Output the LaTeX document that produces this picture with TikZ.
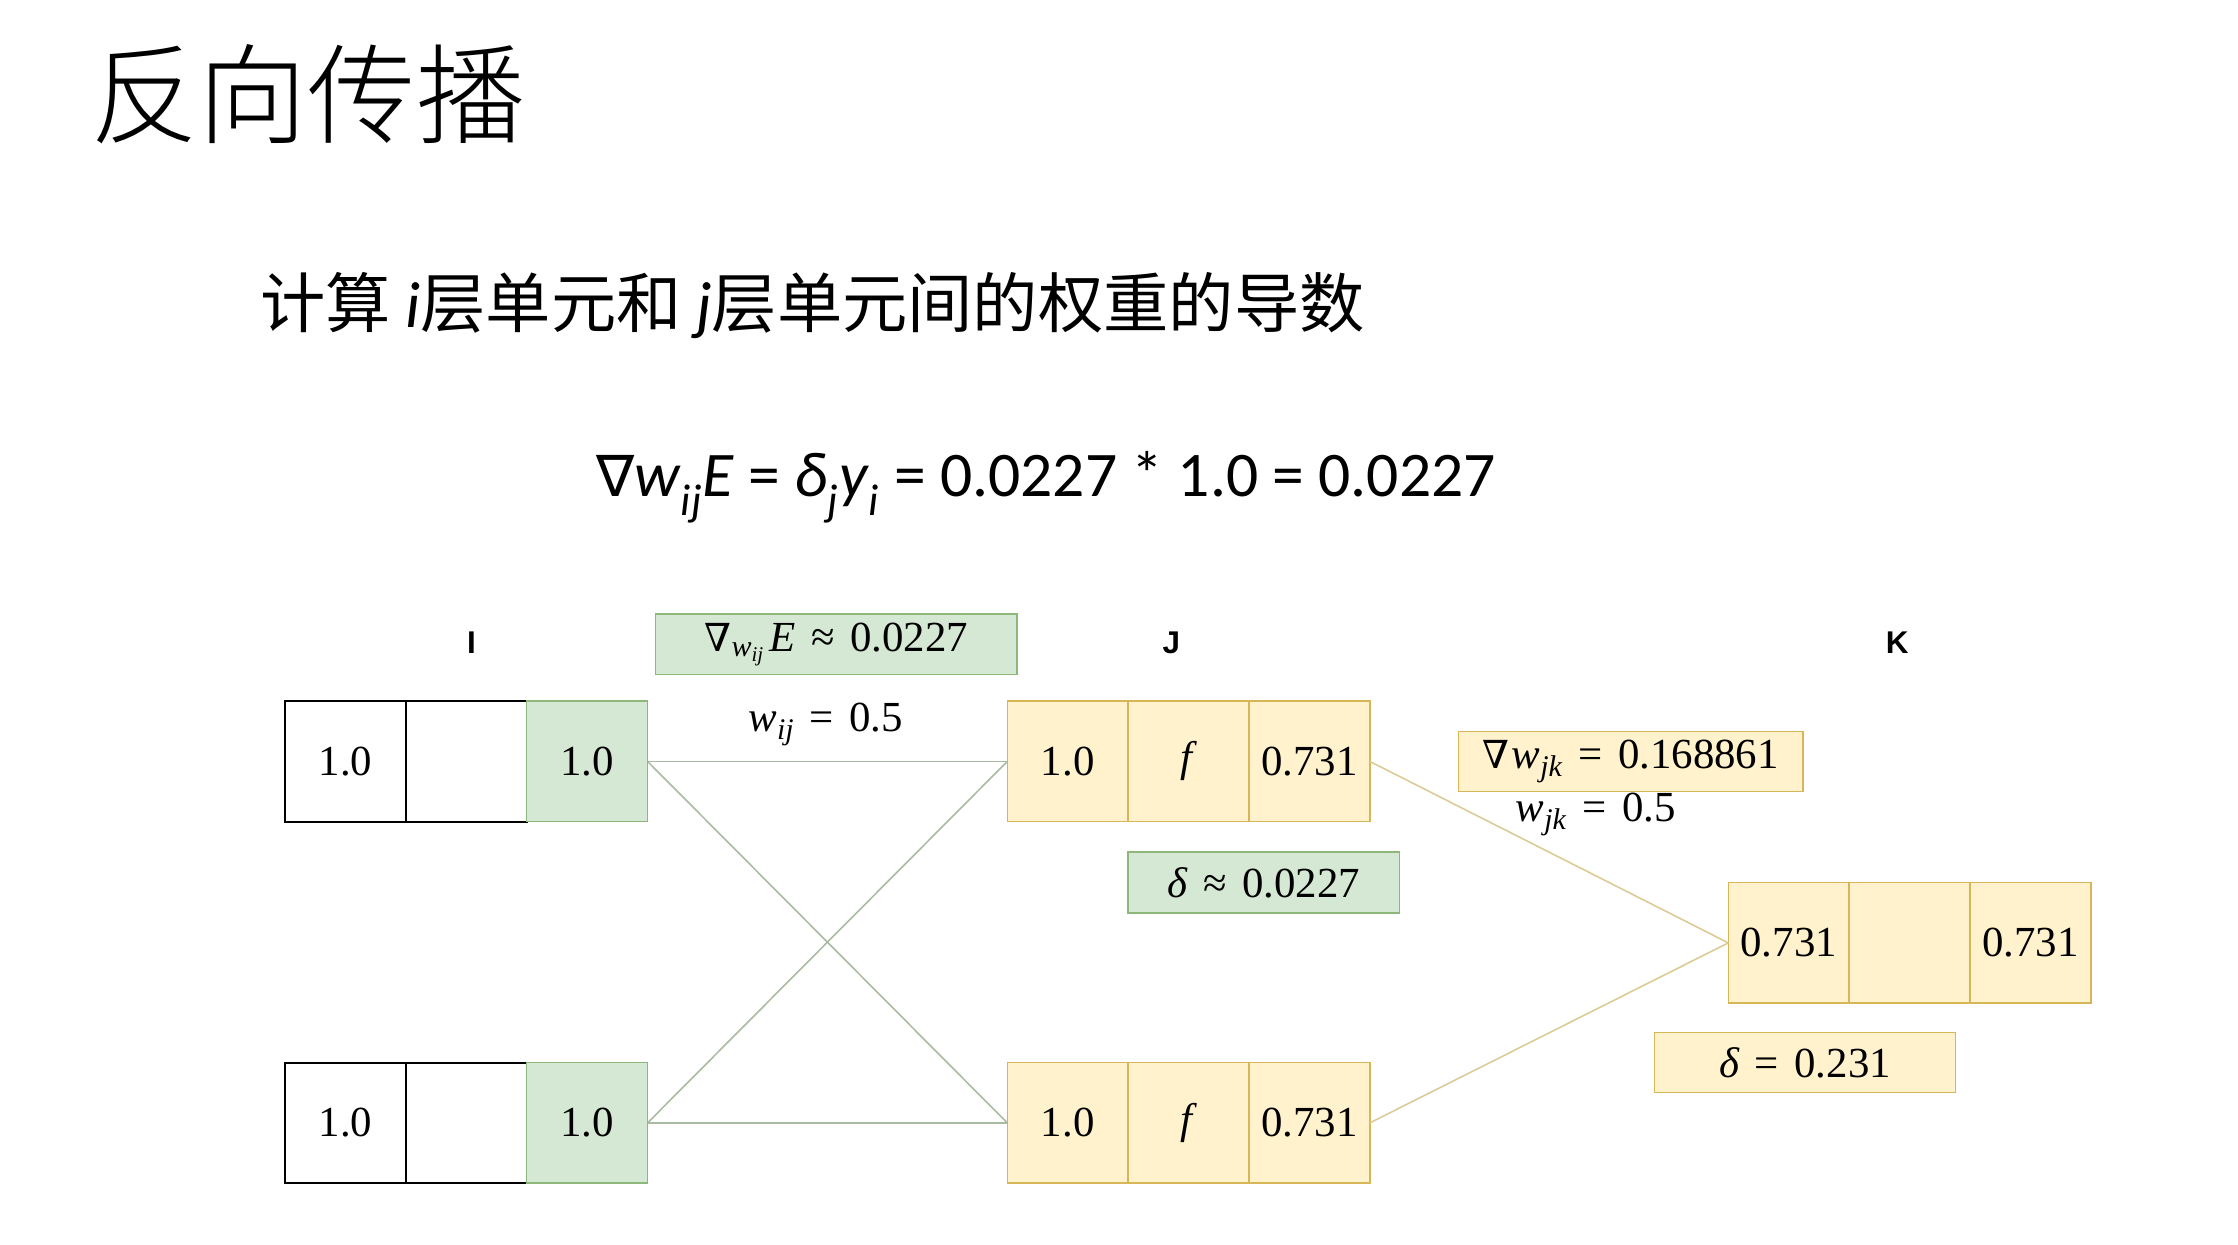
\documentclass[tikz,border=0pt]{standalone}
\usepackage{fontspec}
\setmainfont{Liberation Serif}
\newfontfamily\cjk{Noto Sans CJK SC}
\newfontfamily\cjklight{Noto Sans CJK SC Light}
\newfontfamily\calfont{Carlito}
\newfontfamily\djsans{DejaVu Sans}
\newfontfamily\djserif{DejaVu Serif}
\newfontfamily\arialfont{Liberation Sans}
\definecolor{gfill}{HTML}{D5E8D4}
\definecolor{gdraw}{HTML}{8DB87A}
\definecolor{yfill}{HTML}{FFF2CC}
\definecolor{ydraw}{HTML}{D6B656}
\definecolor{gline}{HTML}{A9BBA0}
\definecolor{yline}{HTML}{DCCB96}
\newcommand{\subt}[1]{\textsubscript{#1}}
\newcommand{\mrel}[1]{\hspace{0.36em}#1\hspace{0.36em}}
\tikzset{
  cellbase/.style={minimum width=84.6pt, minimum height=84.4pt, inner sep=0pt, outer sep=0pt,
    font=\fontsize{30}{30}\selectfont},
  wcell/.style={cellbase, draw=black, line width=1.4pt, fill=white},
  gcell/.style={cellbase, draw=gdraw, line width=1pt, fill=gfill},
  ycell/.style={cellbase, draw=ydraw, line width=1pt, fill=yfill},
  gbox/.style={draw=gdraw, line width=1pt, fill=gfill, inner sep=0pt, minimum height=42.5pt,
    font=\fontsize{30}{30}\selectfont},
  ybox/.style={draw=ydraw, line width=1pt, fill=yfill, inner sep=0pt, minimum height=42pt,
    font=\fontsize{30}{30}\selectfont},
  plaintxt/.style={inner sep=0pt, font=\fontsize{30}{30}\selectfont},
  layerlbl/.style={inner sep=0pt, font=\arialfont\bfseries\fontsize{22}{22}\selectfont},
  ijline/.style={draw=gline, line width=1.1pt},
  jkline/.style={draw=yline, line width=1.1pt}
}
\begin{document}
\begin{tikzpicture}[x=1pt,y=-1pt]
\useasboundingbox[fill=white] (0,0) rectangle (1566.6,870.8);

% title and texts
\node[anchor=west, inner sep=0pt, font=\cjklight\fontsize{76}{76}\selectfont] (title) at (63,66) {反向传播};
\node[anchor=west, inner sep=0pt, font=\cjk\fontsize{45.7}{45.7}\selectfont] (sub) at (182,214)
  {计算 {\calfont\itshape i}层单元和 {\calfont\itshape j}层单元间的权重的导数};
\node[anchor=west, inner sep=0pt, font=\calfont\fontsize{44.5}{44.5}\selectfont] (formula) at (417,341)
  {{\djsans\fontsize{40}{40}\selectfont ∇}\textit{w}\subt{\textit{ij}}\textit{E} = \textit{δ}\subt{\textit{j}}\textit{y}\subt{\textit{i}} = 0.0227 * 1.0 = 0.0227};

% layer labels
\node[layerlbl] (lI) at (330,450) {I};
\node[layerlbl] (lJ) at (820,450) {J};
\node[layerlbl] (lK) at (1328,450) {K};

% layer I
\node[wcell] (i1a) at (241.8,533) {1.0};
\node[wcell] (i1b) at (326.4,533) {};
\node[gcell] (i1c) at (411,533) {1.0};
\node[wcell] (i2a) at (241.8,786) {1.0};
\node[wcell] (i2b) at (326.4,786) {};
\node[gcell] (i2c) at (411,786) {1.0};

% layer J
\node[ycell] (j1a) at (747.4,533) {1.0};
\node[ycell] (j1b) at (832,533) {\textit{f}};
\node[ycell] (j1c) at (916.6,533) {0.731};
\node[ycell] (j2a) at (747.4,786) {1.0};
\node[ycell] (j2b) at (832,786) {\textit{f}};
\node[ycell] (j2c) at (916.6,786) {0.731};

% layer K
\node[ycell] (ka) at (1252.1,660) {0.731};
\node[ycell] (kb) at (1336.7,660) {};
\node[ycell] (kc) at (1421.3,660) {0.731};

% connectors
\draw[ijline] (i1c.east) -- (j1a.west);
\draw[ijline] (i1c.east) -- (j2a.west);
\draw[ijline] (i2c.east) -- (j1a.west);
\draw[ijline] (i2c.east) -- (j2a.west);
\draw[jkline] (j1c.east) -- (ka.west);
\draw[jkline] (j2c.east) -- (ka.west);

% annotation boxes
\node[gbox, minimum width=253pt] (gij) at (585.5,451)
  {{\djserif\fontsize{27}{27}\selectfont ∇}\textsubscript{\textit{w}\textsubscript{\textit{ij}}}\hspace{0.12em}\textit{E}\mrel{≈}0.0227};
\node[plaintxt] (wij) at (578,507) {\textit{w}\subt{\textit{ij}}\mrel{=}0.5};
\node[gbox, minimum width=190pt] (dj) at (884.5,617.7) {\textit{δ}\mrel{≈}0.0227};
\node[ybox, minimum width=241pt] (gjk) at (1141.5,533)
  {{\djserif\fontsize{27}{27}\selectfont ∇}\hspace{0.05em}\textit{w}\subt{\textit{jk}}\mrel{=}0.168861};
\node[plaintxt] (wjk) at (1117,570) {\textit{w}\subt{\textit{jk}}\mrel{=}0.5};
\node[ybox, minimum width=211pt] (dk) at (1263.5,743.9) {\textit{δ}\mrel{=}0.231};
\end{tikzpicture}
\end{document}
